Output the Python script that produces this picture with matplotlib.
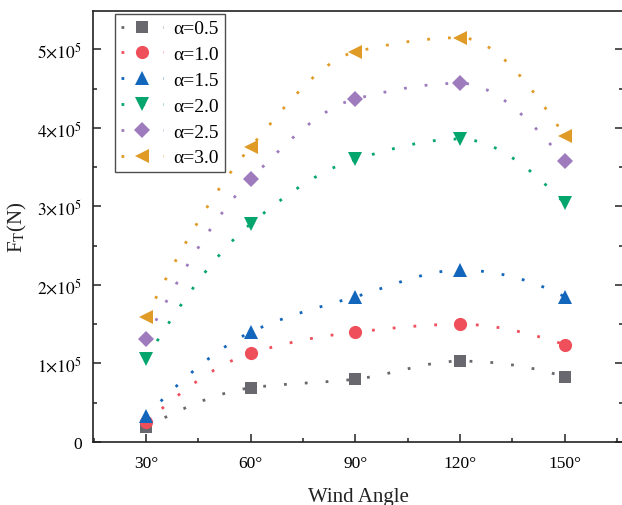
import numpy as np
import matplotlib
matplotlib.use('Agg')
import matplotlib.pyplot as plt
from matplotlib.ticker import MultipleLocator, FixedLocator

# wind angles (deg) and thrust force (x1e5 N) for each alpha
angles = [30, 60, 90, 120, 150]
f_a05 = [0.19, 0.69, 0.80, 1.03, 0.83]
f_a10 = [0.25, 1.13, 1.40, 1.50, 1.24]
f_a15 = [0.33, 1.40, 1.85, 2.19, 1.85]
f_a20 = [1.06, 2.78, 3.60, 3.86, 3.04]
f_a25 = [1.31, 3.35, 4.37, 4.57, 3.58]
f_a30 = [1.59, 3.76, 4.97, 5.15, 3.90]

labels = ['α=0.5', 'α=1.0', 'α=1.5', 'α=2.0', 'α=2.5', 'α=3.0']
colors = ['#68686e', '#ef4f5a', '#1266bb', '#05a56e', '#9d7bbd', '#df9b26']
markers = ['s', 'o', '^', 'v', 'D', '<']
msizes = [9, 9.5, 9.5, 9.5, 8, 9.5]
ytick_vals = [0, 1e5, 2e5, 3e5, 4e5, 5e5]


def pchip_curve(x, y, per_seg=40):
    # shape-preserving cubic through the points; returns curve + knot indices
    x = np.asarray(x, float)
    y = np.asarray(y, float)
    h = np.diff(x)
    d = np.diff(y) / h
    n = len(x)
    m = np.zeros(n)
    for k in range(1, n - 1):
        if d[k - 1] * d[k] > 0:
            w1 = 2 * h[k] + h[k - 1]
            w2 = h[k] + 2 * h[k - 1]
            m[k] = (w1 + w2) / (w1 / d[k - 1] + w2 / d[k])

    def end_slope(h0, h1, d0, d1):
        s = ((2 * h0 + h1) * d0 - h0 * d1) / (h0 + h1)
        if np.sign(s) != np.sign(d0):
            return 0.0
        if np.sign(d0) != np.sign(d1) and abs(s) > 3 * abs(d0):
            return 3 * d0
        return s

    m[0] = end_slope(h[0], h[1], d[0], d[1])
    m[-1] = end_slope(h[-1], h[-2], d[-1], d[-2])

    xs, ys, knots = [], [], []
    for i in range(n - 1):
        t = np.linspace(0, 1, per_seg, endpoint=False)
        h00 = 2 * t**3 - 3 * t**2 + 1
        h10 = t**3 - 2 * t**2 + t
        h01 = -2 * t**3 + 3 * t**2
        h11 = t**3 - t**2
        s = h00 * y[i] + h10 * h[i] * m[i] + h01 * y[i + 1] + h11 * h[i] * m[i + 1]
        knots.append(len(xs))
        xs.extend(x[i] + t * h[i])
        ys.extend(s)
    knots.append(len(xs))
    xs.append(x[-1])
    ys.append(y[-1])
    return np.array(xs), np.array(ys), knots


plt.rcParams['font.family'] = ['Liberation Serif', 'DejaVu Serif']
plt.rcParams['mathtext.fontset'] = 'stix'

fig = plt.figure(figsize=(6.22, 5.06), dpi=100)
ax = fig.add_axes([93 / 622, 1 - 443 / 506, 530 / 622, 431 / 506])

series = [f_a05, f_a10, f_a15, f_a20, f_a25, f_a30]
for vals, lab, col, mk, ms in zip(series, labels, colors, markers, msizes):
    xs, ys, knots = pchip_curve(angles, np.array(vals) * 1e5)
    ax.plot(xs, ys, linestyle=(0, (1, 6.5)), lw=2.0, color=col,
            dash_capstyle='butt',
            marker=mk, markersize=ms, markevery=knots, markeredgewidth=0,
            label=lab)

ax.set_xlim(14.8, 166.7)
ax.set_ylim(0, 5.49e5)
ax.xaxis.set_major_locator(FixedLocator(angles))
ax.xaxis.set_minor_locator(MultipleLocator(15))
ax.set_xticklabels(['%d°' % a for a in angles])
ax.yaxis.set_major_locator(FixedLocator(ytick_vals))
ax.yaxis.set_minor_locator(FixedLocator(np.arange(0.5e5, 5.5e5, 1e5)))
ax.set_yticklabels(['0'] + [r'$%d{\times}10^5$' % round(v / 1e5)
                            for v in ytick_vals[1:]])

ax.tick_params(which='both', direction='in', right=True, top=False,
               labelsize=12.5, width=1.1, color='#222222')
ax.tick_params(which='major', length=6)
ax.tick_params(which='minor', length=3)
ax.tick_params(axis='x', pad=9)
ax.tick_params(axis='y', pad=8)
for sp in ax.spines.values():
    sp.set_linewidth(1.2)
    sp.set_color('#222222')

ax.set_xlabel('Wind Angle', fontsize=15, labelpad=12, color='#222222')
ax.set_ylabel(r'F$_\mathrm{T}$(N)', fontsize=15, labelpad=6, color='#222222')

leg = ax.legend(loc='upper left', bbox_to_anchor=(0.041, 0.993), fontsize=14,
                frameon=True, fancybox=False, edgecolor='#222222',
                handlelength=2.2, handletextpad=0.5, labelspacing=0.42,
                borderpad=0.3, borderaxespad=0, numpoints=1)
leg.get_frame().set_linewidth(1.0)

plt.savefig('out.png', dpi=100)
